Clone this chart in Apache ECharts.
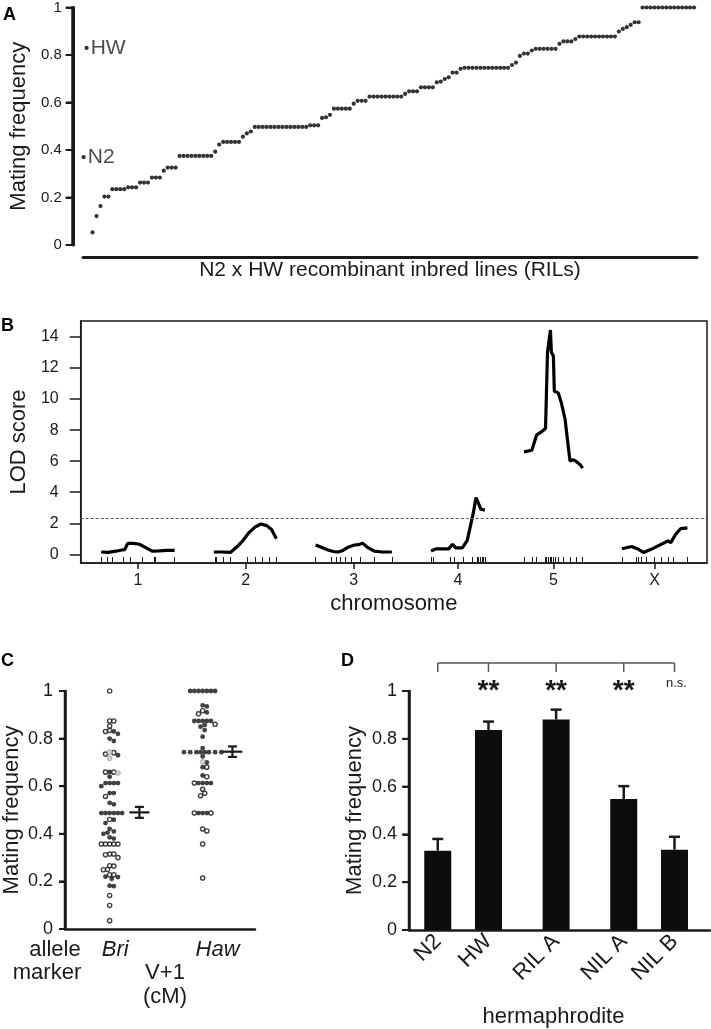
<!DOCTYPE html>
<html>
<head>
<meta charset="utf-8">
<script src="https://cdn.jsdelivr.net/npm/echarts@6/dist/echarts.min.js"></script>
<style>
  html, body { margin: 0; padding: 0; background: #fff; }
  #main { width: 711px; height: 1029px; }
</style>
</head>
<body>
<div id="main"></div>
<script>
// ---- panel A: RIL mating frequencies, sorted ----
const rilFreq = [
  0.053, 0.122, 0.164, 0.204, 0.204,
  0.235, 0.235, 0.235, 0.235, 0.243, 0.243, 0.243,
  0.263, 0.263, 0.263, 0.284, 0.284, 0.284, 0.313,
  0.326, 0.326, 0.326,
  0.375, 0.375, 0.375, 0.375, 0.375, 0.375, 0.375, 0.375, 0.375,
  0.393, 0.423, 0.434, 0.434, 0.434, 0.434, 0.434, 0.456, 0.47, 0.478,
  0.497, 0.497, 0.497, 0.497, 0.497, 0.497, 0.497, 0.497, 0.497, 0.497, 0.497, 0.497, 0.497, 0.497,
  0.504, 0.504, 0.504, 0.535, 0.538, 0.548,
  0.574, 0.574, 0.574, 0.574, 0.574, 0.595, 0.607, 0.607, 0.607,
  0.625, 0.625, 0.625, 0.625, 0.625, 0.625, 0.625, 0.625, 0.625,
  0.636, 0.647, 0.647, 0.647, 0.664, 0.664, 0.664, 0.664,
  0.685, 0.688, 0.699, 0.706, 0.726, 0.726, 0.742,
  0.746, 0.746, 0.746, 0.746, 0.746, 0.746, 0.746, 0.746, 0.746, 0.746, 0.746, 0.746,
  0.758, 0.768, 0.796, 0.806, 0.806, 0.819,
  0.826, 0.826, 0.826, 0.826, 0.826, 0.826, 0.847, 0.857, 0.857, 0.857, 0.867,
  0.878, 0.878, 0.878, 0.878, 0.878, 0.878, 0.878, 0.878, 0.878, 0.878,
  0.899, 0.91, 0.917, 0.927, 0.938, 0.938,
  1, 1, 1, 1, 1, 1, 1, 1, 1, 1, 1, 1, 1, 1
];
const RIL_START = 5;            // slot of the first RIL on the A axis
const parentNames = ['HW', 'N2'];
const parentFreq = [0.83, 0.37];
const parentSlot = [3.5, 2.75];
const freqTicks = [0, 0.2, 0.4, 0.6, 0.8, 1];

// ---- panel B: LOD profiles per chromosome ----
const chromNames = ['1', '2', '3', '4', '5', 'X'];
const lodChr1 = [[10.5, 0.15], [14, 0.12], [18, 0.2], [21, 0.28], [22.5, 0.3], [24, 0.7], [27, 0.7], [30, 0.65], [33, 0.45], [36.5, 0.2], [40, 0.22], [44, 0.25], [48, 0.25]];
const lodChr2 = [[68, 0.15], [72, 0.15], [76.5, 0.12], [80, 0.5], [83, 0.9], [86, 1.4], [89, 1.75], [92, 1.95], [93, 2.0], [95, 1.85], [97.5, 1.6], [100, 1.0]];
const lodChr3 = [[120, 0.6], [123, 0.45], [126, 0.3], [129, 0.18], [131.5, 0.15], [134, 0.25], [136.5, 0.45], [140, 0.6], [142, 0.62], [144, 0.72], [146.5, 0.45], [150, 0.2], [154, 0.15], [159, 0.15]];
const lodChr4 = [[179, 0.21], [181.5, 0.35], [188, 0.35], [190, 0.65], [191.5, 0.42], [195, 0.42], [197.5, 0.9], [199, 1.75], [200.5, 2.6], [202, 3.65], [203, 3.6], [204.5, 2.9], [206.5, 2.85]];
const lodChr5 = [[226.5, 6.6], [230.5, 6.7], [233, 7.7], [235.5, 7.9], [237.5, 8.1], [238.5, 13.0], [240, 14.45], [240.5, 13.0], [241.5, 12.8], [242, 10.5], [244, 10.4], [245.5, 9.8], [247.5, 8.7], [248.5, 7.6], [250, 6.0], [251.5, 6.1], [253, 6.0], [255, 5.8], [256.5, 5.55]];
const lodChrX = [[276.5, 0.36], [281.5, 0.5], [285, 0.32], [287.5, 0.12], [291.5, 0.32], [296.5, 0.64], [300, 0.86], [301.5, 0.75], [304, 1.29], [306.5, 1.65], [310, 1.7]];
const markers = [
  [10.5, 13.5, 16, 21.5, 25.5, 31.5, 37.5, 38, 48],
  [68.5, 69.5, 73, 76.5, 85, 89, 93, 96.5, 100],
  [120, 128, 130.5, 132.5, 135, 138, 143, 150, 159],
  [179, 180, 189, 191, 195.5, 200, 202.5, 203, 204, 205, 205.5, 206.5],
  [226.5, 230.5, 233, 237.5, 238, 239, 240, 240.5, 241.5, 242.5, 244, 246.5, 250, 253, 256.5],
  [276.5, 284, 285, 286.5, 289, 293, 296.5, 300, 303, 310]
];
const lodThreshold = 2.3;
const lodTicks = [0, 2, 4, 6, 8, 10, 12, 14];

// ---- panel C: RIL frequencies split by V+1 allele ----
const alleleNames = ['Bri', 'Haw'];
const alleleX = [0.48, 1.48];
const briFilled = [0.83, 0.82, 0.80, 0.79, 0.73, 0.66, 0.64, 0.613, 0.613, 0.613, 0.613, 0.60, 0.571, 0.571, 0.53, 0.524,
  0.487, 0.487, 0.487, 0.487, 0.487, 0.487, 0.459, 0.445, 0.421, 0.41, 0.405, 0.40, 0.385, 0.38, 0.22, 0.218, 0.211, 0.182, 0.18];
const briOpen = [1.0, 0.874, 0.874, 0.853, 0.834, 0.83, 0.741, 0.735, 0.659, 0.659, 0.557, 0.46, 0.357, 0.357, 0.357, 0.357, 0.357,
  0.315, 0.312, 0.315, 0.30, 0.266, 0.264, 0.249, 0.25, 0.228, 0.228, 0.141, 0.099, 0.035];
const briGray = [0.743, 0.717, 0.655];
const hawFilled = [1, 1, 1, 1, 1, 1, 1, 0.94, 0.935, 0.91, 0.874, 0.874, 0.874, 0.874, 0.874, 0.857, 0.85, 0.836, 0.808, 0.76,
  0.743, 0.743, 0.743, 0.743, 0.743, 0.743, 0.743, 0.743, 0.725, 0.70, 0.68, 0.645, 0.613, 0.613, 0.613, 0.613, 0.487, 0.487, 0.487];
const hawOpen = [0.917, 0.904, 0.86, 0.68, 0.64, 0.613, 0.587, 0.57, 0.56, 0.487, 0.487, 0.42, 0.412, 0.357, 0.214];
const hawGray = [0.703];
const alleleMean = [0.49, 0.745];
const alleleSE = [0.023, 0.022];

// ---- panel D: hermaphrodite strains ----
const strainNames = ['N2', 'HW', 'RIL A', 'NIL A', 'NIL B'];
const strainSlot = [1.7, 4.7, 8.7, 12.7, 15.7];
const strainMean = [0.332, 0.837, 0.881, 0.548, 0.336];
const strainErrTop = [0.381, 0.872, 0.922, 0.602, 0.39];
const sigLabels = ['', '**', '**', '**', 'n.s.'];

const FONT = 'Liberation Sans, Arial, Helvetica, sans-serif';
const INK = '#1a1a1a';

// beeswarm layout for panel C (offsets in px turned into x units)
const C_MIN = 0, C_MAX = 2.043, C_W = 192, C_H = 238;
function swarm(center, sets) {
  const pts = [];
  sets.forEach(s => s.vals.forEach(v => pts.push({ v, kind: s.kind })));
  pts.sort((a, b) => b.v - a.v);
  const placed = [];
  const d = 4.2;
  const step = d / 2;
  pts.forEach(p => {
    const py = p.v * C_H;
    let off = 0;
    for (let k = 0; k < 60; k++) {
      const cand = (k % 2 === 1 ? 1 : -1) * Math.ceil(k / 2) * step;
      const hit = placed.some(q => Math.hypot(q.x - cand, q.y - py) < d);
      if (!hit) { off = cand; break; }
    }
    placed.push({ x: off, y: py });
    p.x = center + off * (C_MAX - C_MIN) / C_W;
  });
  return pts;
}
const swarmPts = swarm(alleleX[0], [{ vals: briFilled, kind: 'f' }, { vals: briOpen, kind: 'o' }, { vals: briGray, kind: 'g' }])
  .concat(swarm(alleleX[1], [{ vals: hawFilled, kind: 'f' }, { vals: hawOpen, kind: 'o' }, { vals: hawGray, kind: 'g' }]));
const pick = kind => swarmPts.filter(p => p.kind === kind).map(p => [p.x, p.v]);
const alleleLabelX = alleleX.map((x, i) => x + [0.06, 0.16][i]);

const chromCenters = markers.map(m => (m[0] + m[m.length - 1]) / 2);
const allMarkers = [].concat(...markers);
const lodCurves = [lodChr1, lodChr2, lodChr3, lodChr4, lodChr5, lodChrX];

const nameIndex = (arr, v) => arr.findIndex(s => Math.abs(s - v) < 1e-6);

const chart = echarts.init(document.getElementById('main'), null, { width: 711, height: 1029 });

// mating-frequency axes: labels from the axis, spine + ticks also drawn by a custom series
const yFreq = (grid, opts) => Object.assign({
  type: 'value', gridIndex: grid, min: 0, max: 1,
  axisLine: { show: true, onZero: false, lineStyle: { color: INK, width: 2.5 } },
  axisTick: { show: true, customValues: freqTicks, length: 6, lineStyle: { color: INK, width: 2 } },
  axisLabel: { customValues: freqTicks, color: INK, fontSize: 18, margin: 12, fontFamily: FONT },
  splitLine: { show: false },
  name: 'Mating frequency', nameLocation: 'middle',
  nameTextStyle: { color: INK, fontSize: 22, fontFamily: FONT }
}, opts);

// spine on its own layer so nothing on the base layer can hide it
const freqSpine = (xi, yi, xAt, tickLen, spineWidth) => ({
  type: 'custom', xAxisIndex: xi, yAxisIndex: yi, silent: true, clip: false, zlevel: 1, z: 10,
  data: freqTicks.map(t => [xAt, t]),
  renderItem: (params, api) => {
    const p = api.coord([api.value(0), api.value(1)]);
    const kids = [{ type: 'line', shape: { x1: p[0] - tickLen, y1: p[1], x2: p[0], y2: p[1] }, style: { stroke: INK, lineWidth: 2 } }];
    if (params.dataIndex === 0) {
      const top = api.coord([api.value(0), freqTicks[freqTicks.length - 1]]);
      kids.push({ type: 'line', shape: { x1: p[0], y1: p[1] + 1, x2: top[0], y2: top[1] - 1 }, style: { stroke: INK, lineWidth: spineWidth } });
    }
    return { type: 'group', children: kids };
  }
});

chart.setOption({
  animation: false,
  backgroundColor: '#fff',
  textStyle: { fontFamily: FONT },
  grid: [
    { left: 66, top: 7.5, width: 631, height: 237.5 },
    { left: 67, top: 321, width: 640, height: 242, show: true, borderColor: INK, borderWidth: 1.5 },
    { left: 63, top: 691, width: C_W, height: C_H },
    { left: 409, top: 691, width: 301, height: 239 },
    { left: 83, top: 7.5, width: 614, height: 237.5 }
  ],
  xAxis: [
    {
      type: 'value', gridIndex: 0, min: 0, max: 157.75,
      axisLine: { show: false }, axisTick: { show: false }, axisLabel: { show: false }, splitLine: { show: false }
    },
    {
      type: 'value', gridIndex: 1, min: 0, max: 320,
      axisLine: { onZero: false, lineStyle: { color: INK, width: 1.5 } },
      axisTick: { show: true, customValues: chromCenters, length: 6, lineStyle: { color: INK, width: 1.5 } },
      axisLabel: {
        customValues: chromCenters, color: INK, fontSize: 16, margin: 10,
        formatter: v => chromNames[nameIndex(chromCenters, v)] || ''
      },
      splitLine: { show: false },
      name: 'chromosome', nameLocation: 'middle', nameGap: 30,
      nameTextStyle: { color: INK, fontSize: 22, fontFamily: FONT }
    },
    {
      type: 'value', gridIndex: 1, min: 0, max: 320, position: 'bottom',
      axisLine: { show: false, onZero: false },
      axisTick: { show: true, inside: true, customValues: allMarkers, length: 6, lineStyle: { color: INK, width: 1 } },
      axisLabel: { show: false }, splitLine: { show: false }
    },
    {
      type: 'value', gridIndex: 2, min: C_MIN, max: C_MAX,
      axisLine: { onZero: false, lineStyle: { color: INK, width: 2.5 } },
      axisTick: { show: false },
      axisLabel: {
        customValues: alleleLabelX, color: INK, fontSize: 22, fontStyle: 'italic', margin: 10,
        formatter: v => alleleNames[nameIndex(alleleLabelX, v)] || ''
      },
      splitLine: { show: false }
    },
    {
      type: 'value', gridIndex: 3, min: 0, max: 17.8,
      axisLine: { onZero: false, lineStyle: { color: INK, width: 2.5 } },
      axisTick: { show: false },
      axisLabel: {
        customValues: strainSlot, rotate: 45, color: INK, fontSize: 22, margin: 8,
        formatter: v => strainNames[nameIndex(strainSlot, v)] || ''
      },
      splitLine: { show: false },
      name: 'hermaphrodite', nameLocation: 'middle', nameGap: 76,
      nameTextStyle: { color: INK, fontSize: 22, fontFamily: FONT, padding: [0, 12, 0, 0] }
    },
    {
      // the separate base rule under panel A
      type: 'value', gridIndex: 4, min: 0, max: 1, offset: 12,
      axisLine: { onZero: false, lineStyle: { color: INK, width: 3 } },
      axisTick: { show: false }, axisLabel: { show: false }, splitLine: { show: false },
      name: 'N2 x HW recombinant inbred lines (RILs)', nameLocation: 'middle', nameGap: 3,
      nameTextStyle: { color: INK, fontSize: 21, fontFamily: FONT }
    }
  ],
  yAxis: [
    yFreq(0, {
      axisLine: { show: true, onZero: false, lineStyle: { color: INK, width: 3 } },
      axisTick: { show: true, customValues: freqTicks, length: 7, lineStyle: { color: INK, width: 2 } },
      axisLabel: { customValues: freqTicks, color: INK, fontSize: 15, margin: 11, fontFamily: FONT },
      nameGap: 37
    }),
    {
      type: 'value', gridIndex: 1, min: -0.56, max: 15.03,
      axisLine: { show: true, onZero: false, lineStyle: { color: INK, width: 1.5 } },
      axisTick: { show: true, customValues: lodTicks, length: 11, lineStyle: { color: INK, width: 1.5 } },
      axisLabel: { customValues: lodTicks, color: INK, fontSize: 16, margin: 22 },
      splitLine: { show: false },
      name: 'LOD score', nameLocation: 'middle', nameGap: 46,
      nameTextStyle: { color: INK, fontSize: 22, fontFamily: FONT }
    },
    yFreq(2, { nameGap: 42 }),
    yFreq(3, { nameGap: 43 }),
    { type: 'value', gridIndex: 4, min: 0, max: 1, show: false }
  ],
  series: [
    // A
    freqSpine(0, 0, 0, 7, 3),
    {
      type: 'scatter', xAxisIndex: 0, yAxisIndex: 0, symbolSize: 4.2,
      itemStyle: { color: '#000' },
      data: rilFreq.map((v, i) => [i + RIL_START, v])
    },
    {
      type: 'scatter', xAxisIndex: 0, yAxisIndex: 0, symbolSize: 4.2,
      itemStyle: { color: '#000' },
      label: { show: true, position: 'right', distance: 2, color: INK, fontSize: 21, formatter: p => parentNames[p.dataIndex] },
      data: parentFreq.map((v, i) => [parentSlot[i], v])
    },
    // B
    ...lodCurves.map((c, i) => ({
      type: 'line', xAxisIndex: 1, yAxisIndex: 1, data: c, showSymbol: false,
      lineStyle: { color: '#000', width: 3.2 },
      markLine: i === 0 ? {
        silent: true, symbol: 'none', label: { show: false },
        lineStyle: { color: '#555', width: 1, type: [3, 2] },
        data: [{ yAxis: lodThreshold }]
      } : undefined
    })),
    // C
    freqSpine(3, 2, C_MIN, 6, 2.5),
    {
      type: 'scatter', xAxisIndex: 3, yAxisIndex: 2, symbolSize: 4.8,
      itemStyle: { color: '#111' }, data: pick('f')
    },
    {
      type: 'scatter', xAxisIndex: 3, yAxisIndex: 2, symbolSize: 4.2,
      itemStyle: { color: '#fff', borderColor: '#111', borderWidth: 1.4 }, data: pick('o')
    },
    {
      type: 'scatter', xAxisIndex: 3, yAxisIndex: 2, symbolSize: 4.4,
      itemStyle: { color: '#d0d0d0', borderColor: '#a6a6a6', borderWidth: 1.2 }, data: pick('g')
    },
    {
      type: 'custom', xAxisIndex: 3, yAxisIndex: 2,
      data: alleleMean.map((m, i) => [alleleX[i] + 0.32, m, alleleSE[i]]),
      renderItem: (params, api) => {
        const x = api.value(0), m = api.value(1), se = api.value(2);
        const c = api.coord([x, m]), hi = api.coord([x, m + se]), lo = api.coord([x, m - se]);
        const st = { stroke: INK, lineWidth: 2.2 };
        return {
          type: 'group', children: [
            { type: 'line', shape: { x1: c[0] - 10, y1: c[1], x2: c[0] + 10, y2: c[1] }, style: st },
            { type: 'line', shape: { x1: c[0], y1: hi[1], x2: c[0], y2: lo[1] }, style: st },
            { type: 'line', shape: { x1: c[0] - 4.5, y1: hi[1], x2: c[0] + 4.5, y2: hi[1] }, style: st },
            { type: 'line', shape: { x1: c[0] - 4.5, y1: lo[1], x2: c[0] + 4.5, y2: lo[1] }, style: st }
          ]
        };
      }
    },
    // D
    freqSpine(4, 3, 0, 7, 2.5),
    {
      type: 'bar', xAxisIndex: 4, yAxisIndex: 3, barWidth: 27,
      itemStyle: { color: '#0d0d0d' },
      data: strainSlot.map((s, i) => [s, strainMean[i]])
    },
    {
      type: 'custom', xAxisIndex: 4, yAxisIndex: 3,
      data: strainSlot.map((s, i) => [s, strainMean[i], strainErrTop[i]]),
      renderItem: (params, api) => {
        const lo = api.coord([api.value(0), api.value(1)]);
        const hi = api.coord([api.value(0), api.value(2)]);
        const st = { stroke: INK, lineWidth: 2.5 };
        return {
          type: 'group', children: [
            { type: 'line', shape: { x1: lo[0], y1: lo[1], x2: hi[0], y2: hi[1] }, style: st },
            { type: 'line', shape: { x1: hi[0] - 5.5, y1: hi[1], x2: hi[0] + 5.5, y2: hi[1] }, style: st }
          ]
        };
      }
    },
    {
      type: 'custom', xAxisIndex: 4, yAxisIndex: 3,
      data: strainSlot.map((s, i) => [s, i]),
      renderItem: (params, api) => {
        const i = params.dataIndex;
        const top = api.coord([api.value(0), 1.117]);
        const foot = api.coord([api.value(0), 1.08]);
        const last = api.coord([strainSlot[strainSlot.length - 1], 1.117]);
        const st = { stroke: '#555', lineWidth: 1.5 };
        const kids = [{ type: 'line', shape: { x1: top[0], y1: top[1], x2: foot[0], y2: foot[1] }, style: st }];
        if (i === 0) kids.push({ type: 'line', shape: { x1: top[0], y1: top[1], x2: last[0], y2: last[1] }, style: st });
        const lab = sigLabels[i];
        if (lab) {
          const small = lab === 'n.s.';
          const p = api.coord([api.value(0), small ? 1.03 : 1.0]);
          kids.push({
            type: 'text', x: p[0] + (small ? 2 : 0), y: p[1],
            style: {
              text: lab, fill: INK, align: 'center', verticalAlign: 'middle',
              fontFamily: FONT, fontSize: small ? 13 : 28, fontWeight: small ? 'normal' : 'bold'
            }
          });
        }
        return { type: 'group', children: kids };
      }
    }
  ],
  graphic: [
    { type: 'text', left: 3, top: 6, style: { text: 'A', fill: '#000', fontFamily: FONT, fontSize: 18, fontWeight: 'bold' } },
    { type: 'text', left: 1, top: 317, style: { text: 'B', fill: '#000', fontFamily: FONT, fontSize: 18, fontWeight: 'bold' } },
    { type: 'text', left: 1, top: 652, style: { text: 'C', fill: '#000', fontFamily: FONT, fontSize: 18, fontWeight: 'bold' } },
    { type: 'text', left: 341, top: 652, style: { text: 'D', fill: '#000', fontFamily: FONT, fontSize: 18, fontWeight: 'bold' } },
    { type: 'text', x: 55, y: 950, style: { text: 'allele', fill: INK, fontFamily: FONT, fontSize: 22, align: 'center', verticalAlign: 'middle' } },
    { type: 'text', x: 47, y: 973, style: { text: 'marker', fill: INK, fontFamily: FONT, fontSize: 22, align: 'center', verticalAlign: 'middle' } },
    { type: 'text', x: 165, y: 973, style: { text: 'V+1', fill: INK, fontFamily: FONT, fontSize: 22, align: 'center', verticalAlign: 'middle' } },
    { type: 'text', x: 165, y: 997, style: { text: '(cM)', fill: INK, fontFamily: FONT, fontSize: 22, align: 'center', verticalAlign: 'middle' } }
  ]
});
</script>
</body>
</html>
